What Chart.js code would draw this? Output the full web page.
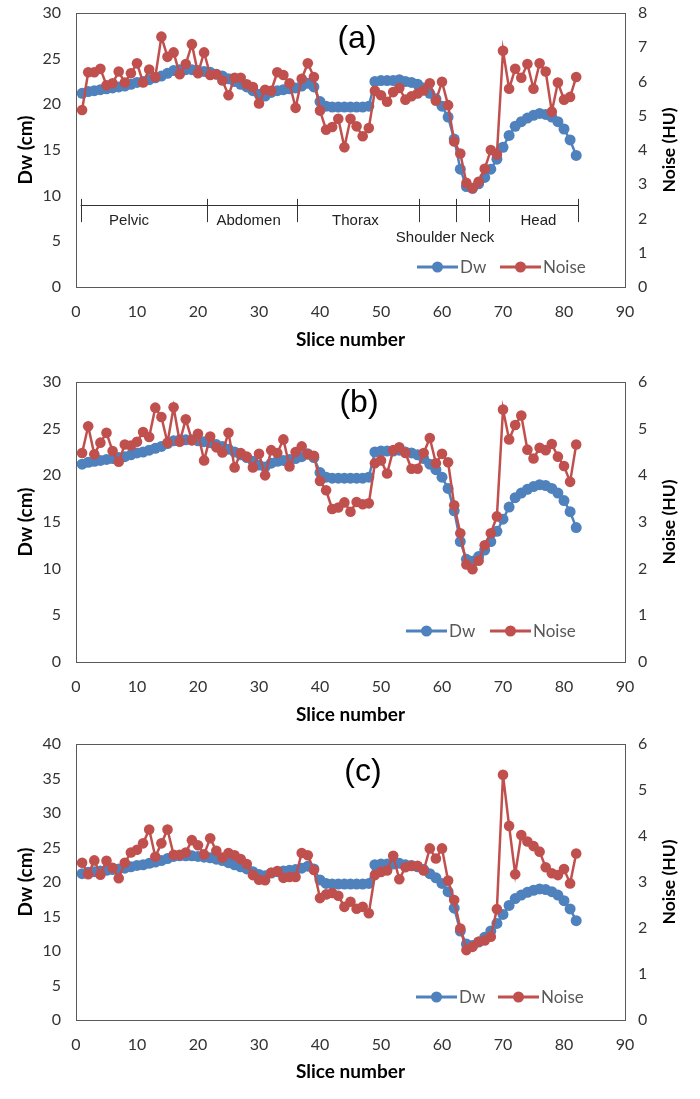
<!DOCTYPE html>
<html>
<head>
<meta charset="utf-8">
<script src="https://cdn.jsdelivr.net/npm/chart.js@4.4.1/dist/chart.umd.min.js"></script>
<style>
  html,body{margin:0;padding:0;background:#fff;}
  body{width:700px;height:1099px;position:relative;overflow:hidden;}
  canvas{position:absolute;left:0;}
</style>
</head>
<body>
<canvas id="ca" width="700" height="360" style="top:0px"></canvas>
<canvas id="cb" width="700" height="370" style="top:360px"></canvas>
<canvas id="cc" width="700" height="369" style="top:730px"></canvas>
<script>
// ---------------- DATA ----------------
const slices = [1,2,3,4,5,6,7,8,9,10,11,12,13,14,15,16,17,18,19,20,21,22,23,24,25,26,27,28,29,30,31,32,33,34,35,36,37,38,39,40,41,42,43,44,45,46,47,48,49,50,51,52,53,54,55,56,57,58,59,60,61,62,63,64,65,66,67,68,69,70,71,72,73,74,75,76,77,78,79,80,81,82];

const dw = [21.2,21.4,21.5,21.6,21.7,21.8,21.9,22.0,22.2,22.4,
            22.5,22.7,22.9,23.1,23.4,23.7,23.8,23.8,23.8,23.7,
            23.6,23.5,23.3,23.1,22.8,22.5,22.2,21.9,21.5,21.1,
            20.9,21.3,21.5,21.6,21.7,21.8,22.0,22.3,21.9,20.3,
            19.8,19.7,19.7,19.7,19.7,19.7,19.7,19.8,22.5,22.6,
            22.6,22.6,22.7,22.5,22.4,22.2,21.8,21.2,20.6,19.8,
            18.6,16.2,12.9,11.0,10.8,11.3,12.0,12.9,14.0,15.3,
            16.6,17.6,18.1,18.5,18.8,19.0,18.9,18.6,18.1,17.3,
            16.1,14.4];

const noiseA = [5.17,6.27,6.27,6.37,5.89,5.95,6.29,5.97,6.24,6.53,
                5.97,6.35,6.13,7.31,6.72,6.85,6.21,6.51,7.09,6.24,
                6.85,6.19,6.21,6.03,5.60,6.11,6.11,5.92,5.84,5.36,
                5.76,5.73,6.27,6.19,5.95,5.23,6.08,6.53,6.13,5.15,
                4.59,4.67,4.91,4.08,4.91,4.69,4.40,4.64,5.73,5.60,
                5.41,5.69,5.81,5.47,5.57,5.65,5.74,5.95,5.44,5.99,
                5.31,4.25,3.90,3.04,2.88,3.07,3.45,4.00,3.87,6.90,
                5.79,6.37,6.11,6.51,5.79,6.53,6.29,5.12,5.97,5.47,
                5.55,6.13];

const noiseB = [4.48,5.05,4.45,4.70,4.91,4.52,4.29,4.66,4.64,4.72,
                4.93,4.82,5.45,5.25,4.70,5.46,4.72,5.20,4.75,4.89,
                4.32,4.83,4.60,4.49,4.91,4.17,4.48,4.40,4.17,4.46,
                4.00,4.54,4.48,4.77,4.19,4.50,4.62,4.45,4.42,3.88,
                3.68,3.28,3.31,3.42,3.22,3.43,3.38,3.40,4.26,4.32,
                4.04,4.54,4.60,4.48,4.14,4.14,4.48,4.80,4.26,4.46,
                4.28,3.36,2.76,2.09,1.99,2.17,2.50,2.76,3.12,5.41,
                4.77,5.08,5.28,4.55,4.36,4.59,4.54,4.67,4.40,4.20,
                3.86,4.66];

const noiseC = [3.42,3.17,3.47,3.16,3.46,3.31,3.08,3.42,3.64,3.70,
                3.84,4.14,3.55,3.84,4.14,3.59,3.59,3.64,3.91,3.80,
                3.60,3.95,3.68,3.53,3.63,3.58,3.50,3.39,3.15,3.05,
                3.04,3.20,3.24,3.09,3.11,3.11,3.63,3.58,3.26,2.65,
                2.73,2.76,2.70,2.46,2.57,2.42,2.46,2.32,3.15,3.22,
                3.25,3.57,3.06,3.32,3.35,3.35,3.25,3.73,3.51,3.73,
                3.03,2.61,1.99,1.52,1.59,1.70,1.73,1.81,2.41,5.33,
                4.22,3.17,4.02,3.88,3.78,3.66,3.32,3.19,3.15,3.28,
                2.97,3.62];

// Body region annotation of panel (a)
const regionBounds = [0.75, 21.5, 36.2, 56.3, 62.3, 67.7, 82.3];
const regionNames  = ["Pelvic","Abdomen","Thorax","Shoulder Neck","Head"];
const regionLabelX = [8.7, 28.3, 45.8, 60.5, 75.8];
const regionLabelY = [7.2, 7.2, 7.2, 5.4, 7.2];

const seriesNames = ["Dw","Noise"];
const panelNames = ["(a)","(b)","(c)"];

// ---------------- STYLE ----------------
const BLUE = '#4F81BD', RED = '#C0504D';
const TICK_FONT = {family:'Lato, "Open Sans", sans-serif', size:16};
const TITLE_FONT = {family:'Lato, "Open Sans", sans-serif', size:19, weight:'bold'};

const framePlugin = {
  id:'frame',
  afterDraw(chart){
    const {ctx, chartArea:a} = chart;
    ctx.save();
    ctx.strokeStyle = '#5a5a5a'; ctx.lineWidth = 1;
    ctx.strokeRect(Math.round(a.left)+0.5, Math.round(a.top)+0.5, Math.round(a.right-a.left), Math.round(a.bottom-a.top));
    ctx.restore();
  }
};

function decorPlugin(p){
  return {
    id:'decor'+p.label,
    afterDraw(chart){
      const {ctx, chartArea:a} = chart;
      ctx.save();
      // right axis title (reads bottom-to-top)
      ctx.translate(669, (a.top+a.bottom)/2);
      ctx.rotate(-Math.PI/2);
      ctx.font = 'bold 17.5px Lato, "Open Sans", sans-serif';
      ctx.fillStyle = '#000'; ctx.textAlign='center'; ctx.textBaseline='middle';
      ctx.fillText('Noise (HU)', 0, 0);
      ctx.restore();

      // panel label
      ctx.save();
      ctx.font = '32px "Liberation Sans", Arial, sans-serif';
      ctx.fillStyle = '#000'; ctx.textAlign='center'; ctx.textBaseline='middle';
      ctx.fillText(p.label, p.labelX, p.labelY);
      ctx.restore();

      // legend
      ctx.save();
      const items = [{c:BLUE, t:seriesNames[0], x0:p.leg[0]}, {c:RED, t:seriesNames[1], x0:p.leg[1]}];
      ctx.font = '17px Lato, "Open Sans", sans-serif';
      ctx.textBaseline='middle'; ctx.textAlign='left';
      for (const it of items){
        ctx.strokeStyle = it.c; ctx.lineWidth = 3;
        ctx.beginPath(); ctx.moveTo(it.x0, p.legY); ctx.lineTo(it.x0+41, p.legY); ctx.stroke();
        ctx.fillStyle = it.c;
        ctx.beginPath(); ctx.arc(it.x0+20.5, p.legY, 5.5, 0, Math.PI*2); ctx.fill();
        ctx.fillStyle = '#595959';
        ctx.fillText(it.t, it.x0+43, p.legY+1);
      }
      ctx.restore();

      // region annotation (panel a)
      if (p.regions){
        const xs = chart.scales.x, ys = chart.scales.y;
        ctx.save();
        ctx.strokeStyle = '#333'; ctx.lineWidth = 1;
        const yl = Math.round(ys.getPixelForValue(9.0))+0.5;
        const yt = ys.getPixelForValue(9.65), yb = ys.getPixelForValue(7.1);
        ctx.beginPath();
        ctx.moveTo(xs.getPixelForValue(regionBounds[0]), yl);
        ctx.lineTo(xs.getPixelForValue(regionBounds[regionBounds.length-1]), yl);
        for (const b of regionBounds){
          const px = Math.round(xs.getPixelForValue(b))+0.5;
          ctx.moveTo(px, yt); ctx.lineTo(px, yb);
        }
        ctx.stroke();
        ctx.font = '15px "Liberation Sans", Arial, sans-serif';
        ctx.fillStyle = '#222'; ctx.textAlign='center'; ctx.textBaseline='middle';
        regionNames.forEach((n,i)=>{
          ctx.fillText(n, xs.getPixelForValue(regionLabelX[i]), ys.getPixelForValue(regionLabelY[i]));
        });
        ctx.restore();
      }
    }
  };
}

function makeChart(id, noise, p){
  const H = p.H;
  new Chart(document.getElementById(id), {
    type:'line',
    data:{
      datasets:[
        {label:seriesNames[0], data:slices.map((s,i)=>({x:s,y:dw[i]})), yAxisID:'y',
         borderColor:BLUE, backgroundColor:BLUE, borderWidth:2.5, pointRadius:5.5,
         pointBorderWidth:0, pointBackgroundColor:BLUE, order:2, tension:0},
        {label:seriesNames[1], data:slices.map((s,i)=>({x:s,y:noise[i]})), yAxisID:'y2',
         borderColor:RED, backgroundColor:RED, borderWidth:2.5, pointRadius:5.3,
         pointBorderWidth:0, pointBackgroundColor:RED, order:1, tension:0}
      ]
    },
    options:{
      responsive:false, animation:false, devicePixelRatio:1,
      layout:{padding:{top:p.top, left:0, right:0, bottom:0}},
      plugins:{legend:{display:false}, tooltip:{enabled:false}},
      scales:{
        x:{type:'linear', min:0, max:90,
           ticks:{stepSize:10, font:TICK_FONT, color:'#333', padding:15},
           grid:{display:false, drawTicks:false}, border:{display:false},
           title:{display:true, text:'Slice number', font:TITLE_FONT, color:'#000', padding:{top:0,bottom:p.xtPad}},
           afterFit(s){ s.height = H - p.bottom; s.paddingLeft = 0; s.paddingRight = 0; }},
        y:{type:'linear', position:'left', min:0, max:p.ymax,
           ticks:{stepSize:5, font:TICK_FONT, color:'#333', padding:15},
           grid:{display:false, drawTicks:false}, border:{display:false},
           title:{display:true, text:'Dw (cm)', font:TITLE_FONT, color:'#000', padding:{top:14,bottom:0}},
           afterFit(s){ s.width = 76; s.paddingTop = 0; s.paddingBottom = 0; }},
        y2:{type:'linear', position:'right', min:0, max:p.y2max,
           ticks:{stepSize:1, font:TICK_FONT, color:'#333', padding:13},
           grid:{display:false, drawTicks:false}, border:{display:false},
           title:{display:false, text:'Noise (HU)'},
           afterFit(s){ s.width = 75; s.paddingTop = 0; s.paddingBottom = 0; }}
      }
    },
    plugins:[framePlugin, decorPlugin(p)]
  });
}

makeChart('ca', noiseA, {H:360, top:13, bottom:287, ymax:30, y2max:8, xtPad:9,
  label:panelNames[0], labelX:357, labelY:39, legY:267, leg:[417,500], regions:true});
makeChart('cb', noiseB, {H:370, top:22, bottom:302, ymax:30, y2max:6, xtPad:4,
  label:panelNames[1], labelX:359, labelY:43, legY:271, leg:[406,490]});
makeChart('cc', noiseC, {H:369, top:14, bottom:290, ymax:40, y2max:6, xtPad:16,
  label:panelNames[2], labelX:363, labelY:42, legY:267, leg:[416,498]});
</script>
</body>
</html>
